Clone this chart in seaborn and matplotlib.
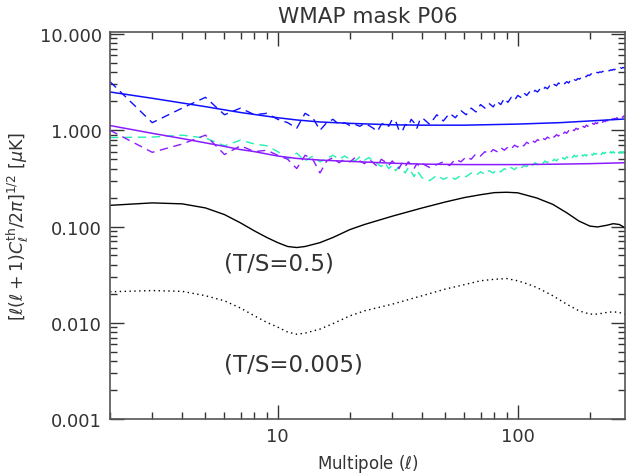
import numpy as np
import pandas as pd
import matplotlib
matplotlib.use("Agg")
import matplotlib.pyplot as plt
import seaborn as sns
from matplotlib.ticker import FixedLocator, FixedFormatter, NullFormatter

# ---------------- data ----------------
ell_data = list(range(2, 40)) + list(range(40, 281, 3))

blue_data = [3.2, 1.2, 1.7, 2.2, 1.45, 1.7, 1.45, 1.5, 1.3, 1.2, 1.05, 1.5, 1.35, 1.0, 1.2, 1.3,
             1.15, 1.2, 1.12, 1.15, 1.1, 1.18, 1.12, 1.05, 0.97, 1.15, 1.2, 1.1, 1.3, 1.25, 1.0, 0.97,
             1.15, 1.1, 1.3, 1.2, 1.05, 1.25,
             1.35, 1.15, 1.45, 1.25, 1.5, 1.35, 1.6, 1.45, 1.7, 1.55, 1.85, 1.7, 1.9, 1.75, 2.0, 1.85,
             2.15, 1.95, 2.2, 2.05, 2.3, 2.2, 2.45, 2.3, 2.5, 2.4, 2.6, 2.5, 2.7, 2.6, 2.8, 2.7, 2.9,
             2.8, 3.0, 2.9, 3.1, 3.0, 3.15, 3.05, 3.2, 3.1, 3.3, 3.2, 3.35, 3.3, 3.45, 3.4, 3.55, 3.5,
             3.65, 3.6, 3.75, 3.7, 3.85, 3.8, 3.9, 3.85, 4.0, 3.95, 4.05, 4.0, 4.1, 4.05, 4.15, 4.1,
             4.2, 4.15, 4.25, 4.2, 4.3, 4.25, 4.35, 4.3, 4.4, 4.35, 4.45, 4.4, 4.5, 4.45, 4.55]

purple_data = [1.0, 0.59, 0.72, 0.89, 0.56, 0.69, 0.6, 0.62, 0.55, 0.5, 0.4, 0.55, 0.5, 0.36, 0.48,
               0.52, 0.46, 0.5, 0.47, 0.52, 0.48, 0.45, 0.5, 0.46, 0.42, 0.5, 0.47, 0.43, 0.48, 0.44,
               0.4, 0.46, 0.42, 0.47, 0.44, 0.4, 0.45, 0.42,
               0.45, 0.41, 0.44, 0.47, 0.43, 0.5, 0.47, 0.53, 0.5, 0.57, 0.54, 0.6, 0.57, 0.63, 0.6,
               0.66, 0.62, 0.67, 0.64, 0.7, 0.67, 0.72, 0.69, 0.75, 0.72, 0.78, 0.75, 0.8, 0.77, 0.83,
               0.8, 0.85, 0.82, 0.88, 0.85, 0.9, 0.87, 0.93, 0.9, 0.96, 0.93, 0.99, 0.96, 1.02, 0.99,
               1.05, 1.02, 1.08, 1.05, 1.1, 1.07, 1.13, 1.1, 1.15, 1.12, 1.18, 1.15, 1.2, 1.17, 1.22,
               1.19, 1.24, 1.21, 1.26, 1.23, 1.28, 1.25, 1.3, 1.27, 1.32, 1.29, 1.33, 1.31, 1.35, 1.32,
               1.37, 1.34, 1.39, 1.36, 1.41, 1.4]

cyan_data = [0.84, 0.85, 0.89, 0.83, 0.69, 0.79, 0.72, 0.69, 0.6, 0.5, 0.58, 0.48, 0.54, 0.47, 0.51,
             0.55, 0.5, 0.54, 0.5, 0.48, 0.53, 0.49, 0.52, 0.48, 0.45, 0.42, 0.46, 0.4, 0.43, 0.38,
             0.42, 0.4, 0.36, 0.41, 0.37, 0.33, 0.38, 0.35,
             0.32, 0.3, 0.34, 0.31, 0.33, 0.31, 0.34, 0.33, 0.36, 0.34, 0.37, 0.35, 0.38, 0.36, 0.39,
             0.37, 0.4, 0.38, 0.41, 0.39, 0.42, 0.4, 0.43, 0.42, 0.45, 0.43, 0.46, 0.44, 0.47, 0.45,
             0.48, 0.46, 0.49, 0.47, 0.5, 0.48, 0.51, 0.49, 0.52, 0.5, 0.53, 0.51, 0.54, 0.52, 0.55,
             0.53, 0.55, 0.53, 0.56, 0.54, 0.56, 0.54, 0.57, 0.55, 0.57, 0.55, 0.58, 0.56, 0.58, 0.56,
             0.58, 0.56, 0.59, 0.57, 0.59, 0.57, 0.59, 0.57, 0.6, 0.58, 0.6, 0.58, 0.6, 0.58, 0.6,
             0.58, 0.6, 0.58, 0.6, 0.58, 0.59]

ell_th = [2, 3, 4, 5, 6, 7, 8, 10, 12, 15, 20, 30, 40, 60, 100, 150, 200, 280]
blue_th = [2.5, 2.15, 1.92, 1.76, 1.63, 1.53, 1.46, 1.35, 1.28, 1.22, 1.18, 1.14, 1.13, 1.13,
           1.16, 1.2, 1.25, 1.31]
purple_th = [1.12, 0.93, 0.82, 0.74, 0.68, 0.63, 0.6, 0.54, 0.51, 0.49, 0.475, 0.455, 0.445,
             0.44, 0.44, 0.445, 0.45, 0.46]

ell_ts = [2, 3, 4, 5, 6, 7, 8, 9, 10, 11, 12, 13, 15, 17, 20, 23, 30, 40, 50, 60, 70, 80, 90,
          100, 110, 120, 140, 160, 180, 200, 215, 235, 250, 265, 280]
ts_05 = [0.166, 0.176, 0.172, 0.156, 0.133, 0.109, 0.09, 0.077, 0.068, 0.062, 0.0605, 0.062,
         0.068, 0.077, 0.093, 0.105, 0.128, 0.156, 0.18, 0.2, 0.214, 0.225, 0.227, 0.224, 0.21,
         0.198, 0.17, 0.139, 0.114, 0.101, 0.099, 0.103, 0.107, 0.105, 0.097]
ts_0005 = [0.021, 0.0216, 0.0212, 0.0191, 0.0169, 0.0142, 0.0118, 0.0101, 0.009, 0.008, 0.0076,
           0.0078, 0.0086, 0.0098, 0.0118, 0.0133, 0.0156, 0.0191, 0.0224, 0.0249, 0.0273, 0.0283,
           0.0288, 0.0273, 0.0253, 0.0233, 0.0191, 0.0156, 0.0133, 0.0123, 0.0123, 0.0128, 0.013,
           0.0128, 0.0122]

y_ticks = [0.001, 0.01, 0.1, 1.0, 10.0]
y_labels = ["0.001", "0.010", "0.100", "1.000", "10.000"]
x_ticks = [10, 100]
x_labels = ["10", "100"]

# ---------------- plot ----------------
sns.set_style("white")
plt.rcParams["font.family"] = ["DejaVu Sans"]
plt.rcParams["mathtext.fontset"] = "dejavusans"

fig = plt.figure(figsize=(6.32, 4.77), dpi=100)
ax = fig.add_axes([110 / 632, 57 / 477, 515 / 632, 387 / 477])

BLUE = "#1010ff"
PURPLE = "#8a1cff"
CYAN = "#22f0b4"
TXT = "#333333"
dash = (0, (6, 4))

df_data = pd.DataFrame({"ell": ell_data, "blue": blue_data, "purple": purple_data, "cyan": cyan_data})
df_th = pd.DataFrame({"ell": ell_th, "blue": blue_th, "purple": purple_th})
df_ts = pd.DataFrame({"ell": ell_ts, "a": ts_05, "b": ts_0005})

sns.lineplot(data=df_data, x="ell", y="cyan", ax=ax, color=CYAN, lw=1.0, linestyle=dash, estimator=None)
sns.lineplot(data=df_data, x="ell", y="purple", ax=ax, color=PURPLE, lw=1.0, linestyle=dash, estimator=None)
sns.lineplot(data=df_data, x="ell", y="blue", ax=ax, color=BLUE, lw=1.0, linestyle=dash, estimator=None)
sns.lineplot(data=df_th, x="ell", y="blue", ax=ax, color=BLUE, lw=1.1, estimator=None)
sns.lineplot(data=df_th, x="ell", y="purple", ax=ax, color=PURPLE, lw=1.1, estimator=None)
sns.lineplot(data=df_ts, x="ell", y="a", ax=ax, color="black", lw=1.0, estimator=None)
sns.lineplot(data=df_ts, x="ell", y="b", ax=ax, color="black", lw=1.0, linestyle=(0, (1, 2.5)), estimator=None)

ax.set_xscale("log")
ax.set_yscale("log")
ax.set_xlim(2, 280)
ax.set_ylim(0.001, 10.5)

ax.xaxis.set_major_locator(FixedLocator(x_ticks))
ax.xaxis.set_major_formatter(FixedFormatter(x_labels))
ax.xaxis.set_minor_locator(FixedLocator([2, 3, 4, 5, 6, 7, 8, 9, 20, 30, 40, 50, 60, 70, 80, 90, 200]))
ax.xaxis.set_minor_formatter(NullFormatter())
ax.yaxis.set_major_locator(FixedLocator(y_ticks))
ax.yaxis.set_major_formatter(FixedFormatter(y_labels))
ax.yaxis.set_minor_locator(FixedLocator([m * d for d in [0.001, 0.01, 0.1, 1.0] for m in range(2, 10)]))
ax.yaxis.set_minor_formatter(NullFormatter())

ax.tick_params(which="both", direction="in", bottom=True, left=True, top=True, right=True,
               color="#333333", width=1.0)
ax.tick_params(which="major", length=10, labelsize=13, pad=6, labelcolor=TXT)
ax.tick_params(which="minor", length=5)
for s in ax.spines.values():
    s.set_color("#555555")
    s.set_linewidth(1.2)
    s.set_visible(True)

ax.set_xlabel(r"Multipole ($\ell$)", fontsize=12, color=TXT, labelpad=5)
ax.set_ylabel(r"$[\ell(\ell+1)C_\ell^{\rm th}/2\pi]^{1/2}$ [$\mu$K]", fontsize=12.5, color=TXT, labelpad=6)
ax.set_title("WMAP mask P06", fontsize=15.5, color=TXT, pad=7)

ax.text(6.0, 0.042, "(T/S=0.5)", fontsize=16.5, color=TXT, ha="left", va="center")
ax.text(6.0, 0.0037, "(T/S=0.005)", fontsize=16.5, color=TXT, ha="left", va="center")

fig.savefig("out.png", dpi=100)
